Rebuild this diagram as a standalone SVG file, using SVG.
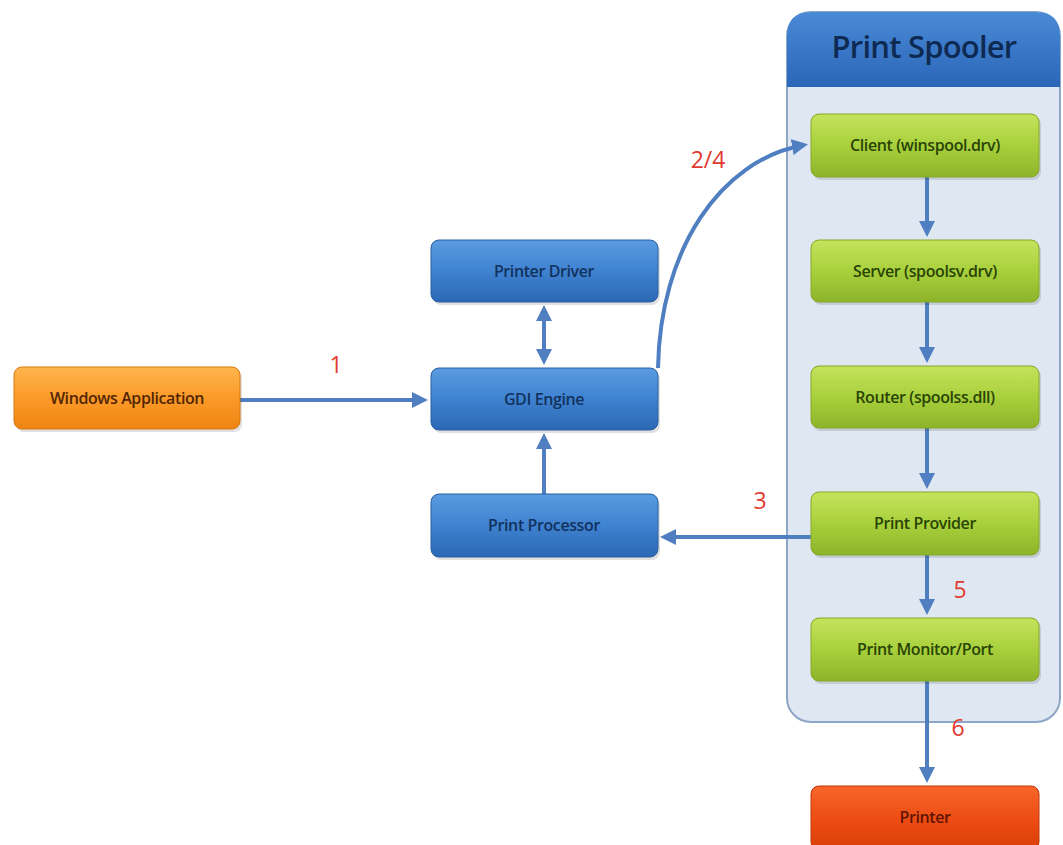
<svg xmlns="http://www.w3.org/2000/svg" width="1063" height="845" viewBox="0 0 1063 845">
<defs>
<linearGradient id="gBlue" x1="0" y1="0" x2="0" y2="1"><stop offset="0" stop-color="#5a9be0"/><stop offset="0.5" stop-color="#3f82d0"/><stop offset="1" stop-color="#2a68b4"/></linearGradient>
<linearGradient id="gGreen" x1="0" y1="0" x2="0" y2="1"><stop offset="0" stop-color="#c4e35c"/><stop offset="0.5" stop-color="#a8d03c"/><stop offset="1" stop-color="#8db42a"/></linearGradient>
<linearGradient id="gOrange" x1="0" y1="0" x2="0" y2="1"><stop offset="0" stop-color="#ffb44e"/><stop offset="0.5" stop-color="#fb9a28"/><stop offset="1" stop-color="#ee8412"/></linearGradient>
<linearGradient id="gRed" x1="0" y1="0" x2="0" y2="1"><stop offset="0" stop-color="#f8652a"/><stop offset="0.5" stop-color="#ee4e14"/><stop offset="1" stop-color="#da3e08"/></linearGradient>
<linearGradient id="gHead" x1="0" y1="0" x2="0" y2="1"><stop offset="0" stop-color="#4a8ad6"/><stop offset="1" stop-color="#2a66b8"/></linearGradient>
<marker id="ah" markerWidth="4" markerHeight="4" refX="3" refY="2" orient="auto" markerUnits="strokeWidth"><path d="M0,0 L4,2 L0,4 Z" fill="#4f7fc0"/></marker>
<marker id="ahs" markerWidth="4" markerHeight="4" refX="1" refY="2" orient="auto" markerUnits="strokeWidth"><path d="M4,0 L0,2 L4,4 Z" fill="#4f7fc0"/></marker>
</defs>
<style>
.lbl{font-family:"Open Sans","Noto Sans",sans-serif;font-size:16px;font-weight:600;text-anchor:middle;letter-spacing:-0.4px}
.bl{fill:#12325e}
.gr{fill:#2a4406}
.or{fill:#522604}
.rd{fill:#621404}
.num{font-family:"Open Sans","Noto Sans",sans-serif;font-size:23px;fill:#e23a30;text-anchor:middle}
.conn{stroke:#4f7fc0;stroke-width:4;fill:none}
.sh{fill:#000;opacity:0.12}
</style>
<rect width="1063" height="845" fill="#ffffff"/>
<g id="spooler">
<rect x="787" y="12" width="273" height="710" rx="24" fill="#dfe7f2" stroke="#8ea6c6" stroke-width="2"/>
<path d="M787,87 L787,36 Q787,12 811,12 L1036,12 Q1060,12 1060,36 L1060,87 Z" fill="url(#gHead)"/>
<text x="924" y="58" font-family="Open Sans,Noto Sans,sans-serif" font-size="31" font-weight="600" fill="#0e2a52" text-anchor="middle" letter-spacing="-0.8">Print Spooler</text>
</g>
<g id="connectors">
<line class="conn" x1="240" y1="400" x2="424" y2="400" marker-end="url(#ah)"/>
<line class="conn" x1="544" y1="309" x2="544" y2="361" marker-start="url(#ahs)" marker-end="url(#ah)"/>
<line class="conn" x1="544" y1="494" x2="544" y2="437" marker-end="url(#ah)"/>
<path class="conn" d="M658,368 C660,250 720,160 804,145" marker-end="url(#ah)"/>
<line class="conn" x1="811" y1="537" x2="664" y2="537" marker-end="url(#ah)"/>
<line class="conn" x1="927" y1="177" x2="927" y2="233" marker-end="url(#ah)"/>
<line class="conn" x1="927" y1="302" x2="927" y2="359" marker-end="url(#ah)"/>
<line class="conn" x1="927" y1="428" x2="927" y2="485" marker-end="url(#ah)"/>
<line class="conn" x1="927" y1="555" x2="927" y2="611" marker-end="url(#ah)"/>
<line class="conn" x1="927" y1="681" x2="927" y2="779" marker-end="url(#ah)"/>
<text class="num" x="336" y="373">1</text>
<text class="num" x="708" y="168">2/4</text>
<text class="num" x="760" y="509">3</text>
<text class="num" x="960" y="598">5</text>
<text class="num" x="958" y="736">6</text>
</g>
<g id="app"><rect class="sh" x="16" y="370" width="226" height="62" rx="8"/><rect x="14" y="367" width="226" height="62" rx="8" fill="url(#gOrange)" stroke="#d8780c"/><text class="lbl or" x="127" y="404">Windows Application</text></g>
<g id="driver"><rect class="sh" x="433" y="243" width="227" height="62" rx="8"/><rect x="431" y="240" width="227" height="62" rx="8" fill="url(#gBlue)" stroke="#2a5ea0"/><text class="lbl bl" x="544" y="277">Printer Driver</text></g>
<g id="gdi"><rect class="sh" x="433" y="371" width="227" height="62" rx="8"/><rect x="431" y="368" width="227" height="62" rx="8" fill="url(#gBlue)" stroke="#2a5ea0"/><text class="lbl bl" x="544" y="405">GDI Engine</text></g>
<g id="processor"><rect class="sh" x="433" y="497" width="227" height="63" rx="8"/><rect x="431" y="494" width="227" height="63" rx="8" fill="url(#gBlue)" stroke="#2a5ea0"/><text class="lbl bl" x="544" y="531">Print Processor</text></g>
<g id="client"><rect class="sh" x="813" y="117" width="228" height="63" rx="8"/><rect x="811" y="114" width="228" height="63" rx="8" fill="url(#gGreen)" stroke="#86a828"/><text class="lbl gr" x="925" y="151">Client (winspool.drv)</text></g>
<g id="server"><rect class="sh" x="813" y="243" width="228" height="62" rx="8"/><rect x="811" y="240" width="228" height="62" rx="8" fill="url(#gGreen)" stroke="#86a828"/><text class="lbl gr" x="925" y="277">Server (spoolsv.drv)</text></g>
<g id="router"><rect class="sh" x="813" y="369" width="228" height="62" rx="8"/><rect x="811" y="366" width="228" height="62" rx="8" fill="url(#gGreen)" stroke="#86a828"/><text class="lbl gr" x="925" y="403">Router (spoolss.dll)</text></g>
<g id="provider"><rect class="sh" x="813" y="495" width="228" height="63" rx="8"/><rect x="811" y="492" width="228" height="63" rx="8" fill="url(#gGreen)" stroke="#86a828"/><text class="lbl gr" x="925" y="529">Print Provider</text></g>
<g id="monitor"><rect class="sh" x="813" y="621" width="228" height="63" rx="8"/><rect x="811" y="618" width="228" height="63" rx="8" fill="url(#gGreen)" stroke="#86a828"/><text class="lbl gr" x="925" y="655">Print Monitor/Port</text></g>
<g id="printer"><rect x="811" y="786" width="228" height="64" rx="8" fill="url(#gRed)" stroke="#c03808"/><text class="lbl rd" x="925" y="823">Printer</text></g>
</svg>
